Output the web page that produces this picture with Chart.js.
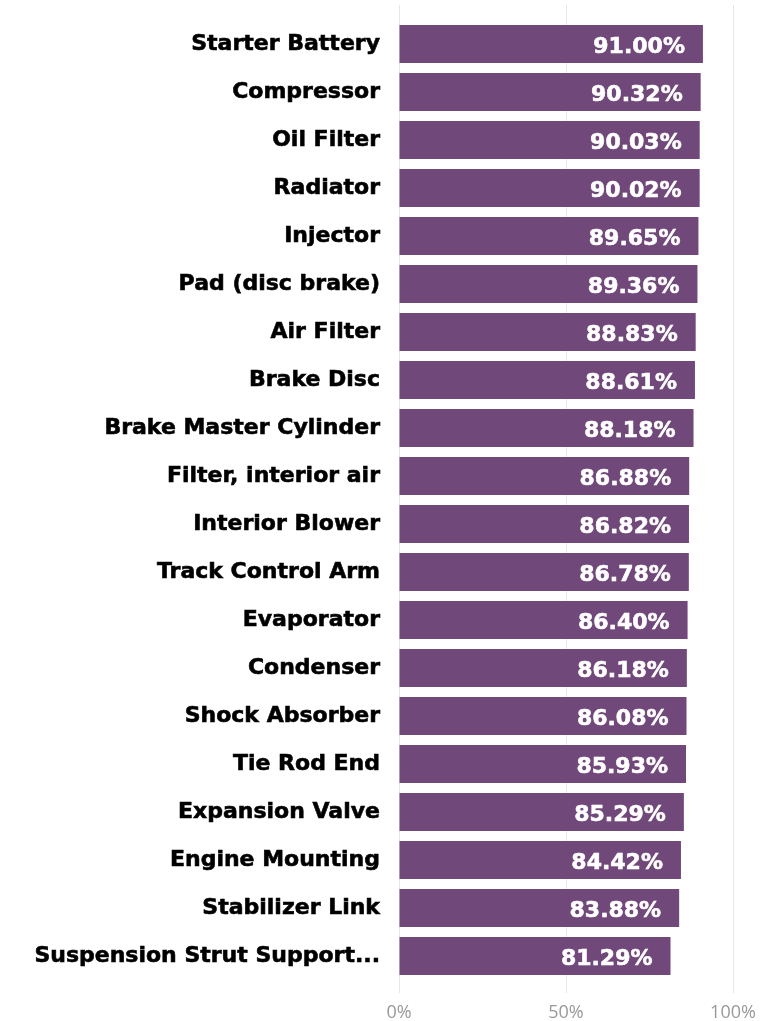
<!DOCTYPE html>
<html>
<head>
<meta charset="utf-8">
<script src="https://cdn.jsdelivr.net/npm/chart.js@4.4.1/dist/chart.umd.min.js"></script>
<style>
  html, body { margin: 0; padding: 0; background: #fff; }
  #wrap { width: 768px; height: 1021px; position: relative; }
</style>
</head>
<body>
<div id="wrap"><canvas id="partsChart"></canvas></div>
<script>
// parts and their share, top to bottom
const parts = [
  "Starter Battery", "Compressor", "Oil Filter", "Radiator", "Injector",
  "Pad (disc brake)", "Air Filter", "Brake Disc", "Brake Master Cylinder",
  "Filter, interior air", "Interior Blower", "Track Control Arm", "Evaporator",
  "Condenser", "Shock Absorber", "Tie Rod End", "Expansion Valve",
  "Engine Mounting", "Stabilizer Link", "Suspension Strut Support..."
];
const shares = [
  91.00, 90.32, 90.03, 90.02, 89.65, 89.36, 88.83, 88.61, 88.18, 86.88,
  86.82, 86.78, 86.40, 86.18, 86.08, 85.93, 85.29, 84.42, 83.88, 81.29
];
const xTicks = [0, 50, 100];

const barColor = "#71487a";

// white value text inside the bar end
const valueLabels = {
  id: "valueLabels",
  afterDatasetsDraw(chart) {
    const ctx = chart.ctx;
    const meta = chart.getDatasetMeta(0);
    ctx.save();
    ctx.fillStyle = "#ffffff";
    ctx.strokeStyle = "#ffffff";
    ctx.lineWidth = 0.6;
    ctx.font = "bold 22px 'DejaVu Sans'";
    ctx.textAlign = "right";
    ctx.textBaseline = "middle";
    meta.data.forEach((bar, i) => {
      const txt = shares[i].toFixed(2) + "%";
      ctx.strokeText(txt, bar.x - 18, bar.y + 3);
      ctx.fillText(txt, bar.x - 18, bar.y + 3);
    });
    ctx.restore();
  }
};

// grid lines poke a bit above the plot area
const gridTop = {
  id: "gridTop",
  beforeDatasetsDraw(chart) {
    const ctx = chart.ctx;
    const x = chart.scales.x;
    const top = chart.chartArea.top;
    ctx.save();
    ctx.strokeStyle = "#e6e6e6";
    ctx.lineWidth = 1;
    xTicks.forEach(t => {
      const px = Math.round(x.getPixelForValue(t)) + 0.5;
      ctx.beginPath();
      ctx.moveTo(px, top - 15);
      ctx.lineTo(px, top);
      ctx.stroke();
    });
    ctx.restore();
  }
};

const ctx = document.getElementById("partsChart");

new Chart(ctx, {
  type: "bar",
  data: {
    labels: parts,
    datasets: [{
      data: shares,
      backgroundColor: barColor,
      borderWidth: 0,
      categoryPercentage: 1,
      barPercentage: 0.79
    }]
  },
  options: {
    indexAxis: "y",
    responsive: true,
    maintainAspectRatio: false,
    animation: false,
    layout: { padding: { top: 20, right: 35, bottom: 0, left: 0 } },
    plugins: {
      legend: { display: false },
      tooltip: { enabled: false }
    },
    scales: {
      x: {
        min: 0,
        max: 100,
        afterBuildTicks: (scale) => {
          scale.ticks = xTicks.map(v => ({ value: v }));
        },
        afterFit: (scale) => { scale.height = 41; },
        grid: { color: "#e6e6e6", tickLength: 13 },
        border: { display: false },
        ticks: {
          padding: 9,
          color: "#999999",
          font: { family: "'Open Sans'", size: 18 },
          callback: (v) => v + "%"
        }
      },
      y: {
        afterFit: (scale) => {
          scale.width = 399;
          scale.paddingTop = 0;
          scale.paddingBottom = 0;
        },
        grid: { display: false, drawTicks: false },
        border: { display: false },
        ticks: {
          padding: 19,
          color: "#000000",
          textStrokeColor: "#000000",
          textStrokeWidth: 0.6,
          font: { family: "'DejaVu Sans'", size: 22, weight: "bold" }
        }
      }
    }
  },
  plugins: [gridTop, valueLabels]
});
</script>
</body>
</html>
